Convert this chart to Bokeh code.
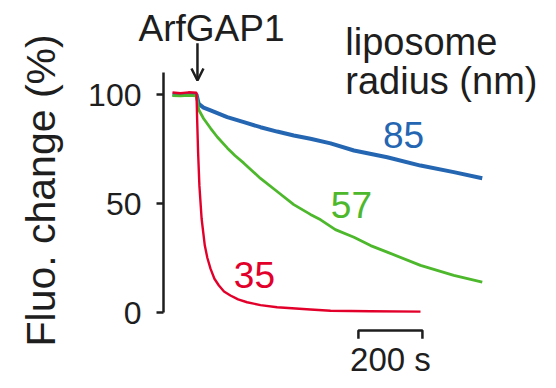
import math
from bokeh.plotting import figure
from bokeh.models import Range1d, FixedTicker, Label, Arrow, OpenHead
from bokeh.embed import file_html
from bokeh.resources import INLINE

# ---- data (time in s relative to ArfGAP1 addition, fluorescence %) ----
t_red = [-75, -50, -25, 0, 2, 5, 9, 16, 26, 34, 44, 56, 70, 86, 106, 130, 158, 200, 252, 356, 419, 544, 700]
v_red = [100.9, 100.6, 101.0, 100.8, 88.8, 73.5, 58.3, 43.0, 30.7, 25.0, 20.0, 15.5, 12.4, 9.6, 7.8, 6.0, 4.7, 3.4, 2.4, 1.4, 0.8, 0.6, 0.4]

t_green = [-75, -50, -25, 0, 7, 22, 44, 65, 96, 120, 148, 200, 252, 304, 356, 388, 434, 492, 544, 596, 700, 804, 893]
v_green = [99.5, 99.4, 99.6, 99.4, 93.0, 89.0, 84.5, 80.5, 75.5, 72.0, 68.5, 61.5, 55.5, 49.5, 45.0, 42.5, 38.0, 34.5, 30.7, 27.7, 21.6, 17.0, 13.9]

t_blue = [-75, -50, -25, 0, 7, 22, 44, 96, 148, 200, 252, 304, 356, 419, 492, 596, 700, 804, 893]
v_blue = [100.0, 99.8, 100.2, 100.0, 95.7, 94.0, 92.7, 89.6, 87.3, 85.0, 83.0, 81.2, 79.7, 77.6, 74.3, 71.2, 67.4, 64.4, 61.6]

radii = ["35", "57", "85"]
y_ticks = [0, 50, 100]
scale_bar_start = 506
scale_bar_len = 200

RED = "#E2002B"
GREEN = "#4DB82C"
BLUE = "#2566B2"
INK = "#1E1E1E"
FONT = "Liberation Sans"

p = figure(width=556, height=388, output_backend="svg", toolbar_location=None,
           title=None, x_range=Range1d(-612.5, 1125), y_range=Range1d(-34.86, 143.12),
           min_border_left=0, min_border_right=0, min_border_top=0, min_border_bottom=0,
           x_axis_location=None)
p.outline_line_color = None
p.grid.visible = False
p.background_fill_color = "white"
p.border_fill_color = "white"

# y axis, drawn at a fixed time coordinate inside the frame
ax = p.yaxis[0]
ax.fixed_location = -103.125
ax.ticker = FixedTicker(ticks=y_ticks)
ax.bounds = (0, 110)
ax.axis_line_width = 2.5
ax.axis_line_color = INK
ax.major_tick_line_width = 2.5
ax.major_tick_line_color = INK
ax.major_tick_out = 7
ax.major_tick_in = 0
ax.minor_tick_line_color = None
ax.major_label_text_font = FONT
ax.major_label_text_font_size = "32px"
ax.major_label_text_color = INK
ax.major_label_standoff = 15

# axis title
p.add_layout(Label(x=-485, y=56, text="Fluo. change (%)", angle=math.pi / 2, text_color=INK,
                   text_font=FONT, text_font_size="41px", text_align="center",
                   text_baseline="alphabetic"))

# traces
p.line(t_blue, v_blue, line_color=BLUE, line_width=4)
p.line(t_green, v_green, line_color=GREEN, line_width=2.8)
p.line(t_red, v_red, line_color=RED, line_width=2.4)

# series labels
for txt, x, y, c in [(radii[0], 181, 17.0, RED), (radii[1], 484, 49.1, GREEN), (radii[2], 647, 81.2, BLUE)]:
    p.add_layout(Label(x=x, y=y, text=txt, text_color=c, text_font=FONT, text_font_size="37px",
                       text_align="center", text_baseline="alphabetic"))

# annotation texts
p.add_layout(Label(x=47, y=130.3, text="ArfGAP1", text_color=INK, text_font=FONT,
                   text_font_size="37px", text_align="center", text_baseline="alphabetic"))
p.add_layout(Arrow(end=OpenHead(size=12, line_width=2.5, line_color=INK),
                   x_start=3, y_start=123.5, x_end=3, y_end=106.4,
                   line_width=2.5, line_color=INK))
p.add_layout(Label(x=465, y=124.0, text="liposome", text_color=INK, text_font=FONT,
                   text_font_size="38px", text_align="left", text_baseline="alphabetic"))
p.add_layout(Label(x=465, y=106.0, text="radius (nm)", text_color=INK, text_font=FONT,
                   text_font_size="38px", text_align="left", text_baseline="alphabetic"))

# scale bar
x0 = scale_bar_start
x1 = scale_bar_start + scale_bar_len
p.line([x0, x0, x1, x1], [-12.0, -8.3, -8.3, -12.0], line_color=INK, line_width=2.5)
p.add_layout(Label(x=(x0 + x1) / 2, y=-21.5, text=f"{scale_bar_len} s", text_color=INK, text_font=FONT,
                   text_font_size="33px", text_align="center", text_baseline="alphabetic"))

open("out.html", "w").write(file_html(p, INLINE))
